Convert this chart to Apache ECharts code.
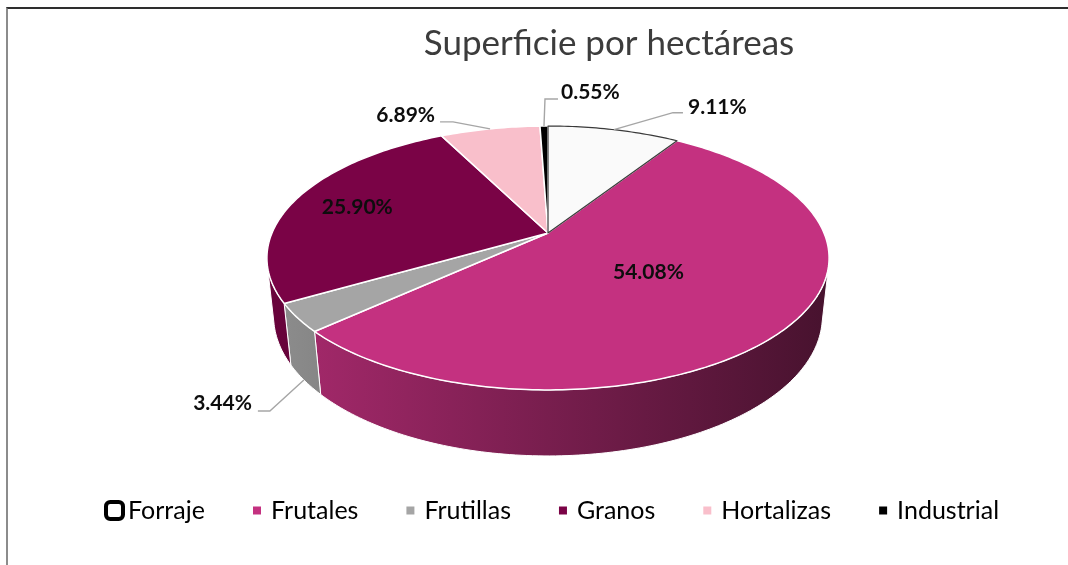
<!DOCTYPE html>
<html><head><meta charset="utf-8">
<script src="https://cdn.jsdelivr.net/npm/echarts@6/dist/echarts.min.js"></script>
<style>
html,body{margin:0;padding:0;background:#fff;overflow:hidden;}
#frame{position:absolute;left:6px;top:7px;width:1100px;height:620px;border-top:2px solid #2e2e2e;border-left:2px solid #8c8c8c;box-sizing:border-box;}
#chart{position:absolute;left:0;top:0;width:1068px;height:565px;}
</style></head><body>
<div id="frame"></div><div id="chart"></div>
<script>
// ---- data ----
const categories = ['Forraje', 'Frutales', 'Frutillas', 'Granos', 'Hortalizas', 'Industrial'];
const values = [9.11, 54.08, 3.44, 25.90, 6.89, 0.55];

// ---- styles / layout ----
const palette = ['#FAFAFA', '#C43180', '#A5A5A5', '#7A0346', '#F9BFCB', '#000000'];
const edgeColor = ['#3a3a3a', '#ffffff', '#ffffff', '#ffffff', '#ffffff', '#ffffff'];
const geo = {cx: 548, cy: 233, S: 276, d: 4.69, tilt: 27.45, h: 0.24};
const labelLayout = [
  {type: 'out', anchor: 'top', elbow: [59, -17], tail: 10, gap: 5, dy: -5.5},
  {type: 'in', r: 0.45},
  {type: 'out', anchor: 'bottom', elbow: [-34, 31], tail: -12, gap: 6, dy: -8},
  {type: 'in', r: 0.75},
  {type: 'out', anchor: 'top', elbow: [-37, -7], tail: -13, gap: 5, dy: -7},
  {type: 'out', anchor: 'top', elbow: [1, -27], tail: 13, gap: 3, dy: -6.5}
];
const FONT = 'Lato';

const total = values.reduce((a, b) => a + b, 0);
const cum = [0];
values.forEach(v => cum.push(cum[cum.length - 1] + v));
const TAU = Math.PI * 2;
const ta = geo.tilt * Math.PI / 180, sa = Math.sin(ta), ca = Math.cos(ta);
const F = geo.S * geo.d;
function proj(X, Z, Y) {
  const up = Z * sa + Y * ca;
  const depth = geo.d + Z * ca - Y * sa;
  return [geo.cx + F * X / depth, geo.cy - F * up / depth];
}
function rim(t, r, Y) { return proj(r * Math.sin(t), r * Math.cos(t), Y); }
const wallA = Math.acos(-1 / (geo.d * ca));
const wallB = TAU - wallA;

function shade(hex, k) {
  const n = parseInt(hex.slice(1), 16);
  const r = Math.round(((n >> 16) & 255) * k), g = Math.round(((n >> 8) & 255) * k), b = Math.round((n & 255) * k);
  return 'rgb(' + r + ',' + g + ',' + b + ')';
}
function arcPts(a, b, r, Y) {
  const pts = [];
  const n = Math.max(2, Math.ceil(Math.abs(b - a) / (Math.PI / 180)));
  for (let j = 0; j <= n; j++) pts.push(rim(a + (b - a) * j / n, r, Y));
  return pts;
}

function makeRender(i) {
  return function (params, api) {
    const t0 = cum[i] / total * TAU, t1 = cum[i + 1] / total * TAU;
    const children = [];
    const w0 = Math.max(t0, wallA), w1 = Math.min(t1, wallB);
    if (w1 > w0) {
      const pts = arcPts(w0, w1, 1, 0).concat(arcPts(w1, w0, 1, -geo.h));
      const xl = geo.cx - geo.S * 1.02, xr = geo.cx + geo.S * 1.02;
      const grad = new echarts.graphic.LinearGradient(xl, 0, xr, 0, [
        {offset: 0, color: shade(palette[i], 0.86)},
        {offset: 1, color: shade(palette[i], 0.36)}
      ], true);
      children.push({type: 'polygon', shape: {points: pts}, style: {fill: grad, stroke: '#ffffff', lineWidth: 1}});
    }
    const top = [proj(0, 0, 0)].concat(arcPts(t0, t1, 1, 0));
    children.push({type: 'polygon', shape: {points: top},
      style: {fill: palette[i], stroke: edgeColor[i], lineWidth: i === 0 ? 1.2 : 1.5, lineJoin: 'round'}});
    // label
    const L = labelLayout[i];
    const txt = values[i].toFixed(2) + '%';
    const tm = (t0 + t1) / 2;
    const tstyle = {text: txt, fill: '#0d0d0d', font: 'bold 21px ' + FONT, verticalAlign: 'middle'};
    if (L.type === 'in') {
      const p = rim(tm, L.r, 0);
      children.push({type: 'text', x: p[0], y: p[1], z2: 10, style: Object.assign({}, tstyle, {align: 'center'})});
    } else {
      const a = L.anchor === 'top' ? rim(tm, 1, 0) : rim(tm, 1, -geo.h);
      const e = [a[0] + L.elbow[0], a[1] + L.elbow[1]];
      const tl = [e[0] + L.tail, e[1]];
      children.push({type: 'polyline', z2: 10, shape: {points: [a, e, tl]}, style: {stroke: '#A6A6A6', lineWidth: 1.4, fill: null}});
      const right = L.tail > 0;
      children.push({type: 'text', z2: 10, x: tl[0] + (right ? L.gap : -L.gap), y: tl[1] + L.dy,
        style: Object.assign({}, tstyle, {align: right ? 'left' : 'right'})});
    }
    return {type: 'group', children: children};
  };
}

const series = categories.map((name, i) => ({
  type: 'custom', name: name, coordinateSystem: 'none', silent: true, animation: false,
  z: i === 0 ? 4 : 2,
  itemStyle: {color: palette[i]},
  data: [values[i]],
  renderItem: makeRender(i)
}));

const legendText = {fontFamily: FONT, fontSize: 25, color: '#000'};
const chart = echarts.init(document.getElementById('chart'), null, {renderer: 'canvas'});
chart.setOption({
  backgroundColor: 'transparent',
  animation: false,
  title: {text: 'Superficie por hectáreas', left: 604, textAlign: 'center', top: 21,
    textStyle: {fontFamily: FONT, fontSize: 35, fontWeight: 'normal', color: '#3c3c3c'}},
  legend: [
    {data: [{name: categories[0], icon: 'roundRect', itemStyle: {color: '#ffffff', borderColor: '#000000', borderWidth: 4}}],
      left: 99, top: 493, itemWidth: 17, itemHeight: 17, selectedMode: false, textStyle: legendText},
    {data: categories.slice(1).map(n => ({name: n, icon: 'rect'})),
      left: 248, top: 493, itemWidth: 8, itemHeight: 8, itemGap: 48, selectedMode: false,
      textStyle: Object.assign({}, legendText, {padding: [0, 0, 0, 5]})}
  ],
  series: series
});
</script>
</body></html>
